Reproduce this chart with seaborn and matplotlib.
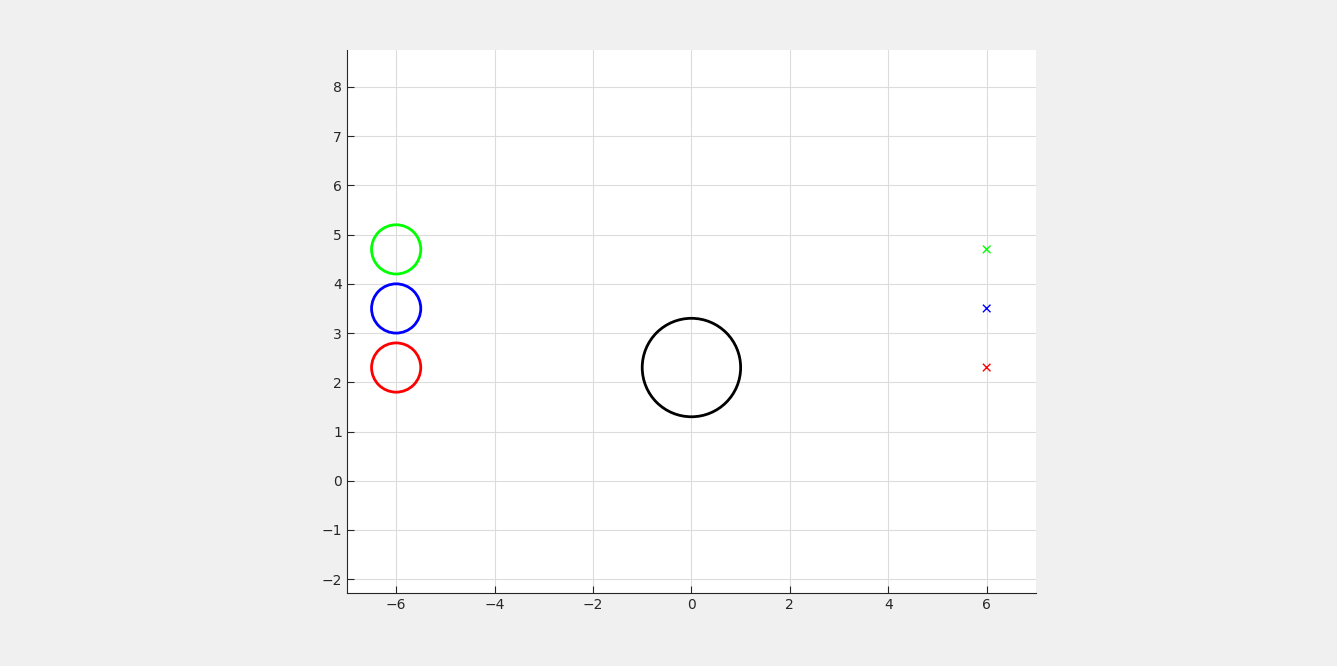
import seaborn as sns
import matplotlib.pyplot as plt
from matplotlib.patches import Circle

# circles: centre x, centre y, radius, colour
circle_x = [-6, -6, -6, 0]
circle_y = [4.7, 3.5, 2.3, 2.3]
circle_r = [0.5, 0.5, 0.5, 1.0]
circle_c = ['#00ff00', '#0000ff', '#ff0000', '#000000']

# cross markers
cross_x = [6, 6, 6]
cross_y = [4.7, 3.5, 2.3]
cross_c = ['#00ff00', '#0000ff', '#ff0000']

xticks = [-6, -4, -2, 0, 2, 4, 6]
yticks = [-2, -1, 0, 1, 2, 3, 4, 5, 6, 7, 8]

sns.set_style('white')
plt.rcParams['font.family'] = ['DejaVu Sans']

fig = plt.figure(figsize=(13.37, 6.66), dpi=100, facecolor='#f0f0f0')
ax = fig.add_axes([0.2595, 0.1096, 0.5153, 0.8153])

for x, y, r, c in zip(circle_x, circle_y, circle_r, circle_c):
    ax.add_patch(Circle((x, y), r, fill=False, edgecolor=c, linewidth=2))

sns.scatterplot(x=cross_x, y=cross_y, hue=list(range(3)), palette=cross_c,
                marker='x', s=30, linewidth=1, legend=False, ax=ax)

ax.set_xlim(-7.0, 7.0)
ax.set_ylim(-2.28, 8.75)
ax.set_xticks(xticks)
ax.set_yticks(yticks)
ax.grid(True, color='#dcdcdc', linewidth=0.8)
ax.set_axisbelow(True)
for s in ['top', 'right']:
    ax.spines[s].set_visible(False)
for s in ['left', 'bottom']:
    ax.spines[s].set_color('#262626')
    ax.spines[s].set_linewidth(0.8)
ax.tick_params(direction='in', length=5, labelsize=10, colors='#262626',
               left=True, bottom=True)

fig.savefig('out.png', dpi=100, facecolor=fig.get_facecolor())
